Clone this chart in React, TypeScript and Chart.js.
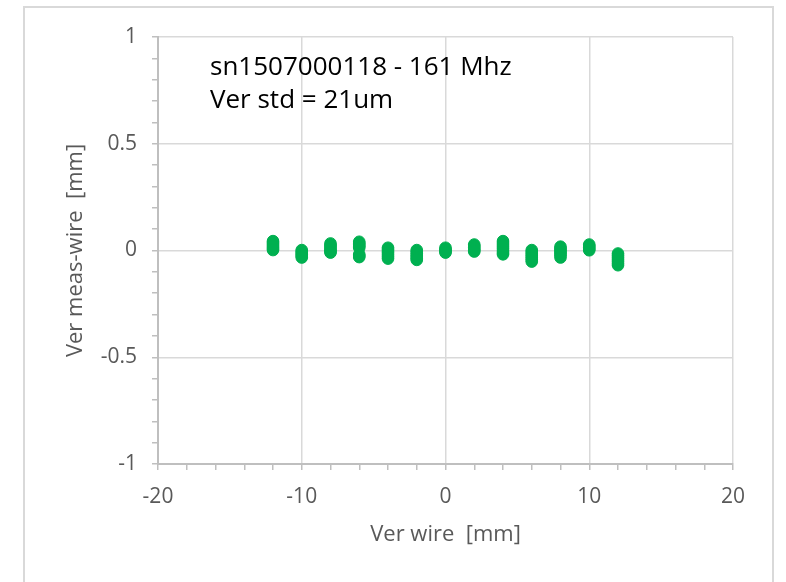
import React, { useEffect, useRef } from 'react';
import { Chart, registerables } from 'chart.js';

Chart.register(...registerables);

// ---- data ----
const xPositions = [-12, -10, -8, -6, -4, -2, 0, 2, 4, 6, 8, 10, 12];

const yAtM12 = [0.044, 0.037, 0.03, 0.022, 0.015, 0.008, 0.002];
const yAtM10 = [0.002, -0.005, -0.012, -0.019, -0.026, -0.033];
const yAtM8 = [0.033, 0.025, 0.017, 0.009, 0.001, -0.005, -0.01];
const yAtM6 = [0.041, 0.034, 0.027, 0.02, 0.013, -0.018, -0.025, -0.031];
const yAtM4 = [0.013, 0.005, -0.003, -0.011, -0.02, -0.029, -0.038];
const yAtM2 = [0.002, -0.006, -0.014, -0.022, -0.03, -0.038, -0.044];
const yAt0 = [0.013, 0.006, 0.0, -0.005, -0.01];
const yAt2 = [0.028, 0.021, 0.014, 0.007, 0.0, -0.005];
const yAt4 = [0.044, 0.035, 0.026, 0.017, 0.008, -0.002, -0.011, -0.018];
const yAt6 = [0.002, -0.007, -0.016, -0.025, -0.034, -0.043, -0.052];
const yAt8 = [0.018, 0.01, 0.002, -0.006, -0.014, -0.022, -0.033];
const yAt10 = [0.028, 0.021, 0.014, 0.007, 0.001];
const yAt12 = [-0.014, -0.023, -0.032, -0.041, -0.05, -0.06, -0.069];

const clusters = [yAtM12, yAtM10, yAtM8, yAtM6, yAtM4, yAtM2, yAt0, yAt2, yAt4, yAt6, yAt8, yAt10, yAt12];

const xMajorValues = [-20, -10, 0, 10, 20];
const xTickLabels = ['-20', '-10', '0', '10', '20'];
const yMajorValues = [-1, -0.5, 0, 0.5, 1];
const yTickLabels = ['-1', '-0.5', '0', '0.5', '1'];

const annotationLines = ['sn1507000118 - 161 Mhz', 'Ver std = 21um'];
const xTitle = 'Ver wire  [mm]';
const yTitle = 'Ver meas-wire  [mm]';

// ---- helpers ----
const majorIndex = (v: number, majors: number[]) =>
  majors.findIndex((m) => Math.abs(m - v) < 1e-6);

const GREEN = '#00b050';
const GRID = '#d9d9d9';
const AXIS = '#bfbfbf';
const LABEL = '#595959';
const FONT = "'Open Sans', 'DejaVu Sans', sans-serif";

const framePlugin = {
  id: 'frameAndNote',
  beforeDraw(chart: any) {
    const ctx = chart.ctx;
    ctx.save();
    ctx.fillStyle = '#ffffff';
    ctx.fillRect(0, 0, chart.width, chart.height);
    ctx.strokeStyle = GRID;
    ctx.lineWidth = 2;
    ctx.beginPath();
    ctx.moveTo(24, chart.height + 5);
    ctx.lineTo(24, 7);
    ctx.lineTo(773, 7);
    ctx.lineTo(773, chart.height + 5);
    ctx.stroke();
    ctx.restore();
  },
  afterDatasetsDraw(chart: any) {
    const ctx = chart.ctx;
    const area = chart.chartArea;
    ctx.save();
    ctx.fillStyle = '#000000';
    ctx.font = `26px ${FONT}`;
    ctx.textBaseline = 'alphabetic';
    ctx.textAlign = 'left';
    annotationLines.forEach((line, i) => {
      ctx.fillText(line, area.left + 52, area.top + 38 + i * 33);
    });
    ctx.restore();
  },
};

export default function App() {
  const canvasRef = useRef<HTMLCanvasElement | null>(null);

  useEffect(() => {
    const canvas = canvasRef.current;
    if (!canvas) return;

    const points = xPositions.flatMap((x, i) => clusters[i].map((y) => ({ x, y })));

    const chart = new Chart(canvas, {
      type: 'scatter',
      data: {
        datasets: [
          {
            label: 'Ver meas-wire',
            data: points,
            backgroundColor: GREEN,
            borderColor: GREEN,
            borderWidth: 1,
            pointRadius: 5.8,
            pointHoverRadius: 5.8,
          },
        ],
      },
      options: {
        responsive: false,
        animation: false,
        events: [],
        layout: { padding: { left: 0, right: 53, top: 37, bottom: 0 } },
        plugins: {
          legend: { display: false },
          tooltip: { enabled: false },
          title: { display: false },
        },
        scales: {
          x: {
            type: 'linear',
            min: -20,
            max: 20,
            afterFit: (scale: any) => {
              scale.height = 118;
            },
            ticks: {
              stepSize: 2,
              autoSkip: false,
              maxRotation: 0,
              padding: 14,
              color: LABEL,
              font: { family: FONT, size: 21 },
              callback: (v: any) => {
                const i = majorIndex(Number(v), xMajorValues);
                return i >= 0 ? xTickLabels[i] : '';
              },
            },
            grid: {
              color: (c: any) =>
                c.tick && majorIndex(c.tick.value, xMajorValues) >= 0 ? GRID : 'rgba(0,0,0,0)',
              tickColor: AXIS,
              tickLength: 6,
              lineWidth: 1.5,
              tickWidth: 1.5,
            },
            border: { display: true, color: AXIS, width: 2 },
            title: {
              display: true,
              text: xTitle,
              color: LABEL,
              font: { family: FONT, size: 22 },
              padding: { top: 0, bottom: 34 },
            },
          },
          y: {
            type: 'linear',
            min: -1,
            max: 1,
            afterFit: (scale: any) => {
              scale.width = 158;
            },
            ticks: {
              stepSize: 0.1,
              autoSkip: false,
              padding: 15,
              color: LABEL,
              font: { family: FONT, size: 21 },
              callback: (v: any) => {
                const i = majorIndex(Number(v), yMajorValues);
                return i >= 0 ? yTickLabels[i] : '';
              },
            },
            grid: {
              color: (c: any) =>
                c.tick && majorIndex(c.tick.value, yMajorValues) >= 0 ? GRID : 'rgba(0,0,0,0)',
              tickColor: AXIS,
              tickLength: 6,
              lineWidth: 1.5,
              tickWidth: 1.5,
            },
            border: { display: true, color: AXIS, width: 2 },
            title: {
              display: true,
              text: yTitle,
              color: LABEL,
              font: { family: FONT, size: 22 },
              padding: { top: 63, bottom: 0 },
            },
          },
        },
      },
      plugins: [framePlugin],
    });

    return () => {
      chart.destroy();
    };
  }, []);

  return (
    <div
      style={{
        position: 'fixed',
        left: 0,
        top: 0,
        width: 786,
        height: 582,
        background: '#ffffff',
      }}
    >
      <canvas ref={canvasRef} width={786} height={582} style={{ display: 'block' }} />
    </div>
  );
}
